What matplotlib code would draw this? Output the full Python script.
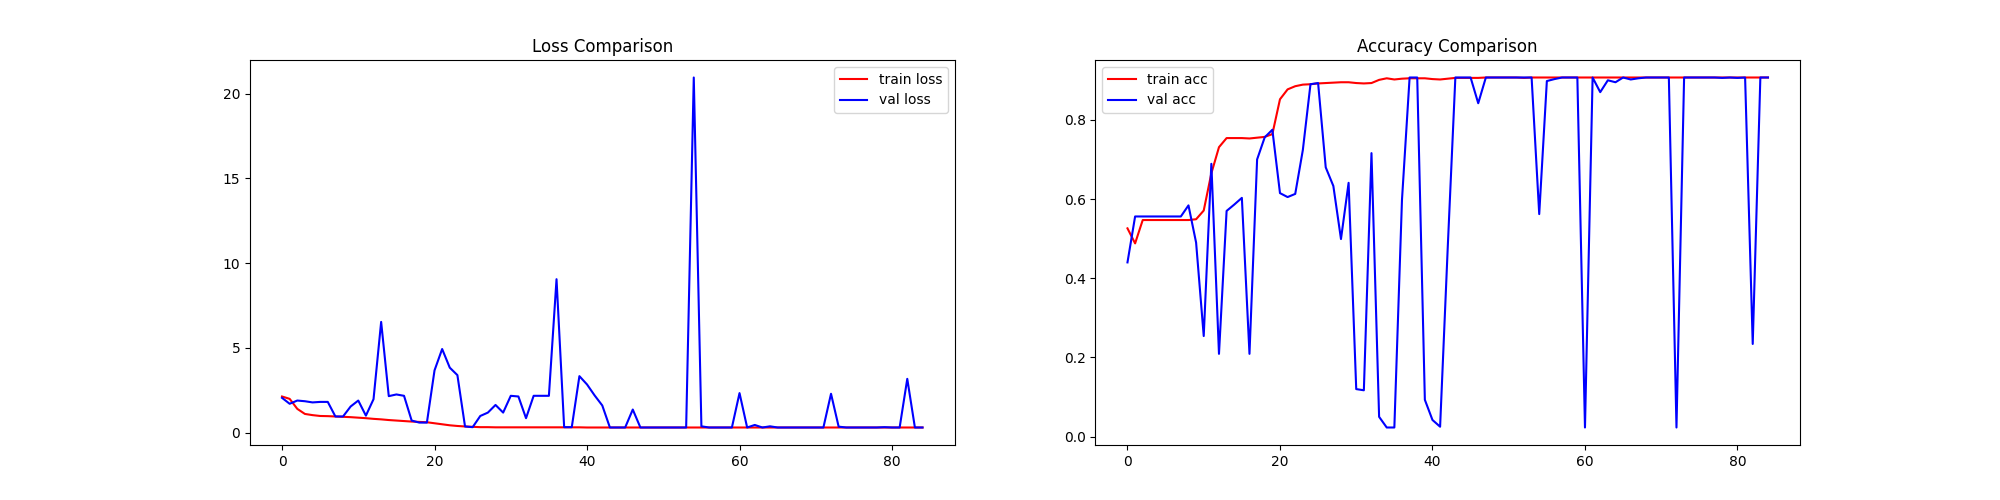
import matplotlib
matplotlib.use("Agg")
import matplotlib.pyplot as plt

epochs = list(range(85))

train_loss = [2.13, 1.99, 1.40, 1.10, 1.03, 0.98, 0.97, 0.95, 0.93, 0.91,
              0.88, 0.85, 0.81, 0.78, 0.74, 0.71, 0.68, 0.65, 0.63, 0.61,
              0.55, 0.49, 0.43, 0.39, 0.36, 0.34, 0.32, 0.32, 0.31, 0.31,
              0.31, 0.31, 0.31, 0.31, 0.31, 0.31, 0.31, 0.31, 0.31, 0.31,
              0.30, 0.30, 0.30, 0.30, 0.30, 0.30, 0.30, 0.30, 0.30, 0.30,
              0.30, 0.30, 0.30, 0.30, 0.30, 0.30, 0.30, 0.30, 0.30, 0.30,
              0.30, 0.30, 0.30, 0.30, 0.30, 0.30, 0.30, 0.30, 0.30, 0.30,
              0.30, 0.30, 0.30, 0.30, 0.30, 0.30, 0.30, 0.30, 0.30, 0.30,
              0.30, 0.30, 0.30, 0.30, 0.30]

val_loss = [2.05, 1.70, 1.89, 1.85, 1.78, 1.81, 1.81, 0.95, 0.95, 1.54,
            1.89, 1.00, 1.97, 6.53, 2.15, 2.25, 2.17, 0.71, 0.59, 0.59,
            3.67, 4.93, 3.83, 3.39, 0.36, 0.32, 0.98, 1.18, 1.63, 1.18,
            2.17, 2.13, 0.85, 2.17, 2.17, 2.17, 9.05, 0.32, 0.32, 3.33,
            2.84, 2.19, 1.60, 0.30, 0.30, 0.30, 1.36, 0.30, 0.30, 0.30,
            0.30, 0.30, 0.30, 0.30, 20.95, 0.37, 0.30, 0.30, 0.30, 0.30,
            2.33, 0.30, 0.45, 0.30, 0.37, 0.30, 0.30, 0.30, 0.30, 0.30,
            0.30, 0.30, 2.29, 0.35, 0.30, 0.30, 0.30, 0.30, 0.30, 0.32,
            0.30, 0.30, 3.17, 0.30, 0.30]

train_acc = [0.526, 0.488, 0.547, 0.547, 0.547, 0.547, 0.547, 0.547, 0.547, 0.549,
             0.571, 0.665, 0.731, 0.754, 0.754, 0.754, 0.753, 0.755, 0.757, 0.764,
             0.852, 0.877, 0.885, 0.889, 0.890, 0.892, 0.893, 0.894, 0.895, 0.895,
             0.893, 0.892, 0.893, 0.901, 0.905, 0.902, 0.904, 0.905, 0.905, 0.905,
             0.903, 0.902, 0.904, 0.906, 0.906, 0.906, 0.906, 0.907, 0.907, 0.907,
             0.907, 0.907, 0.906, 0.907, 0.907, 0.907, 0.907, 0.907, 0.907, 0.907,
             0.907, 0.907, 0.907, 0.907, 0.907, 0.907, 0.907, 0.907, 0.907, 0.907,
             0.907, 0.907, 0.907, 0.907, 0.907, 0.907, 0.907, 0.907, 0.907, 0.907,
             0.907, 0.907, 0.907, 0.907, 0.907]

val_acc = [0.440, 0.556, 0.556, 0.556, 0.556, 0.556, 0.556, 0.556, 0.584, 0.490,
           0.254, 0.689, 0.209, 0.570, 0.586, 0.603, 0.209, 0.700, 0.756, 0.775,
           0.615, 0.605, 0.613, 0.724, 0.890, 0.893, 0.680, 0.633, 0.499, 0.641,
           0.120, 0.117, 0.716, 0.050, 0.023, 0.023, 0.598, 0.907, 0.907, 0.093,
           0.042, 0.025, 0.477, 0.907, 0.907, 0.907, 0.842, 0.907, 0.907, 0.907,
           0.907, 0.907, 0.907, 0.907, 0.562, 0.898, 0.903, 0.907, 0.907, 0.907,
           0.023, 0.907, 0.870, 0.900, 0.895, 0.907, 0.902, 0.905, 0.907, 0.907,
           0.907, 0.907, 0.023, 0.907, 0.907, 0.907, 0.907, 0.907, 0.906, 0.907,
           0.906, 0.907, 0.234, 0.907, 0.907]

plt.figure(figsize=(20, 5), dpi=100)

plt.subplot(1, 2, 1)
plt.plot(epochs, train_loss, color="red", label="train loss")
plt.plot(epochs, val_loss, color="blue", label="val loss")
plt.title("Loss Comparison")
plt.legend(loc="upper right")

plt.subplot(1, 2, 2)
plt.plot(epochs, train_acc, color="red", label="train acc")
plt.plot(epochs, val_acc, color="blue", label="val acc")
plt.title("Accuracy Comparison")
plt.legend(loc="upper left")

plt.savefig("out.png")
